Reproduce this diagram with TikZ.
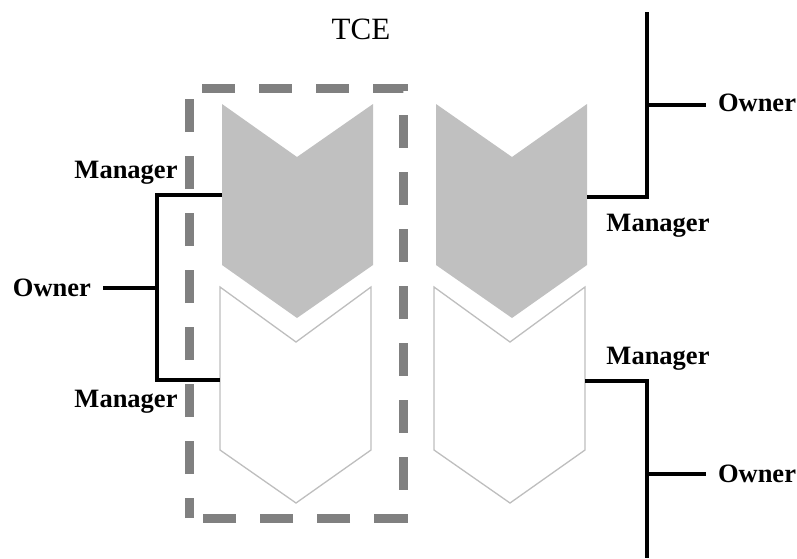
\documentclass[tikz,border=0pt]{standalone}
\usepackage{fontspec}
\setmainfont{Liberation Serif}
\definecolor{chevfill}{RGB}{192,192,192}
\definecolor{chevline}{RGB}{190,190,190}
\definecolor{boxline}{RGB}{128,128,128}

\begin{document}
\begin{tikzpicture}[
        x=1pt, y=-1pt,
        lbl/.style={font=\bfseries\fontsize{26.5}{28}\selectfont, inner sep=0pt, anchor=base},
        own/.style={lbl, outer sep=12pt},
        link/.style={line width=4.6pt},
        solidchev/.style={fill=chevfill, draw=none},
        openchev/.style={fill=white, draw=chevline, line width=1.3pt},
        tcebox/.style={draw=boxline, line width=9pt, dash pattern=on 33pt off 24pt, dash phase=13pt}
      ]
        \useasboundingbox (0,0) rectangle (797,558);

        % the TCE box
        \draw[tcebox] (189,518) -- (189,88) -- (403,88) -- (403,518) -- cycle;
        \node[font=\fontsize{31}{33}\selectfont, inner sep=0pt, anchor=base] (TCE) at (361,39) {TCE};

        % chevrons
        \draw[solidchev] (222,104) -- (297,157) -- (373,104) -- (373,265) -- (297,318) -- (222,265) -- cycle;
        \draw[openchev] (220,287) -- (296,342) -- (371,287) -- (371,450) -- (296,503) -- (220,450) -- cycle;
        \draw[solidchev] (436,104) -- (512,157) -- (587,104) -- (587,265) -- (512,318) -- (436,265) -- cycle;
        \draw[openchev] (434,287) -- (510,342) -- (585,287) -- (585,450) -- (510,503) -- (434,450) -- cycle;

        \coordinate (CL1) at (222,195);
        \coordinate (CL2) at (220,380);
        \coordinate (CR1) at (587,197);
        \coordinate (CR2) at (585,381);

        % left owner
        \node[lbl] (ML1) at (126,178) {Manager};
        \node[lbl] (ML2) at (126,407) {Manager};
        \node[own] (OL) at (52,296) {Owner};
        \coordinate (JL) at (157,288);
        \draw[link] (CL1) -| (JL) |- (CL2);
        \draw[link] (OL.east |- JL) -- (JL);

        % right owners
        \node[lbl] (MR1) at (658,231) {Manager};
        \node[lbl] (MR2) at (658,364) {Manager};
        \node[own] (OR1) at (757,111) {Owner};
        \node[own] (OR2) at (757,482) {Owner};
        \coordinate (TR1) at (647,12);
        \coordinate (TR2) at (647,558);
        \coordinate (JR1) at (647,105);
        \coordinate (JR2) at (647,474);
        \draw[link] (TR1) |- (CR1);
        \draw[link] (CR2) -| (TR2);
        \draw[link] (JR1) -- (OR1.west |- JR1);
        \draw[link] (JR2) -- (OR2.west |- JR2);
      \end{tikzpicture}
\end{document}
